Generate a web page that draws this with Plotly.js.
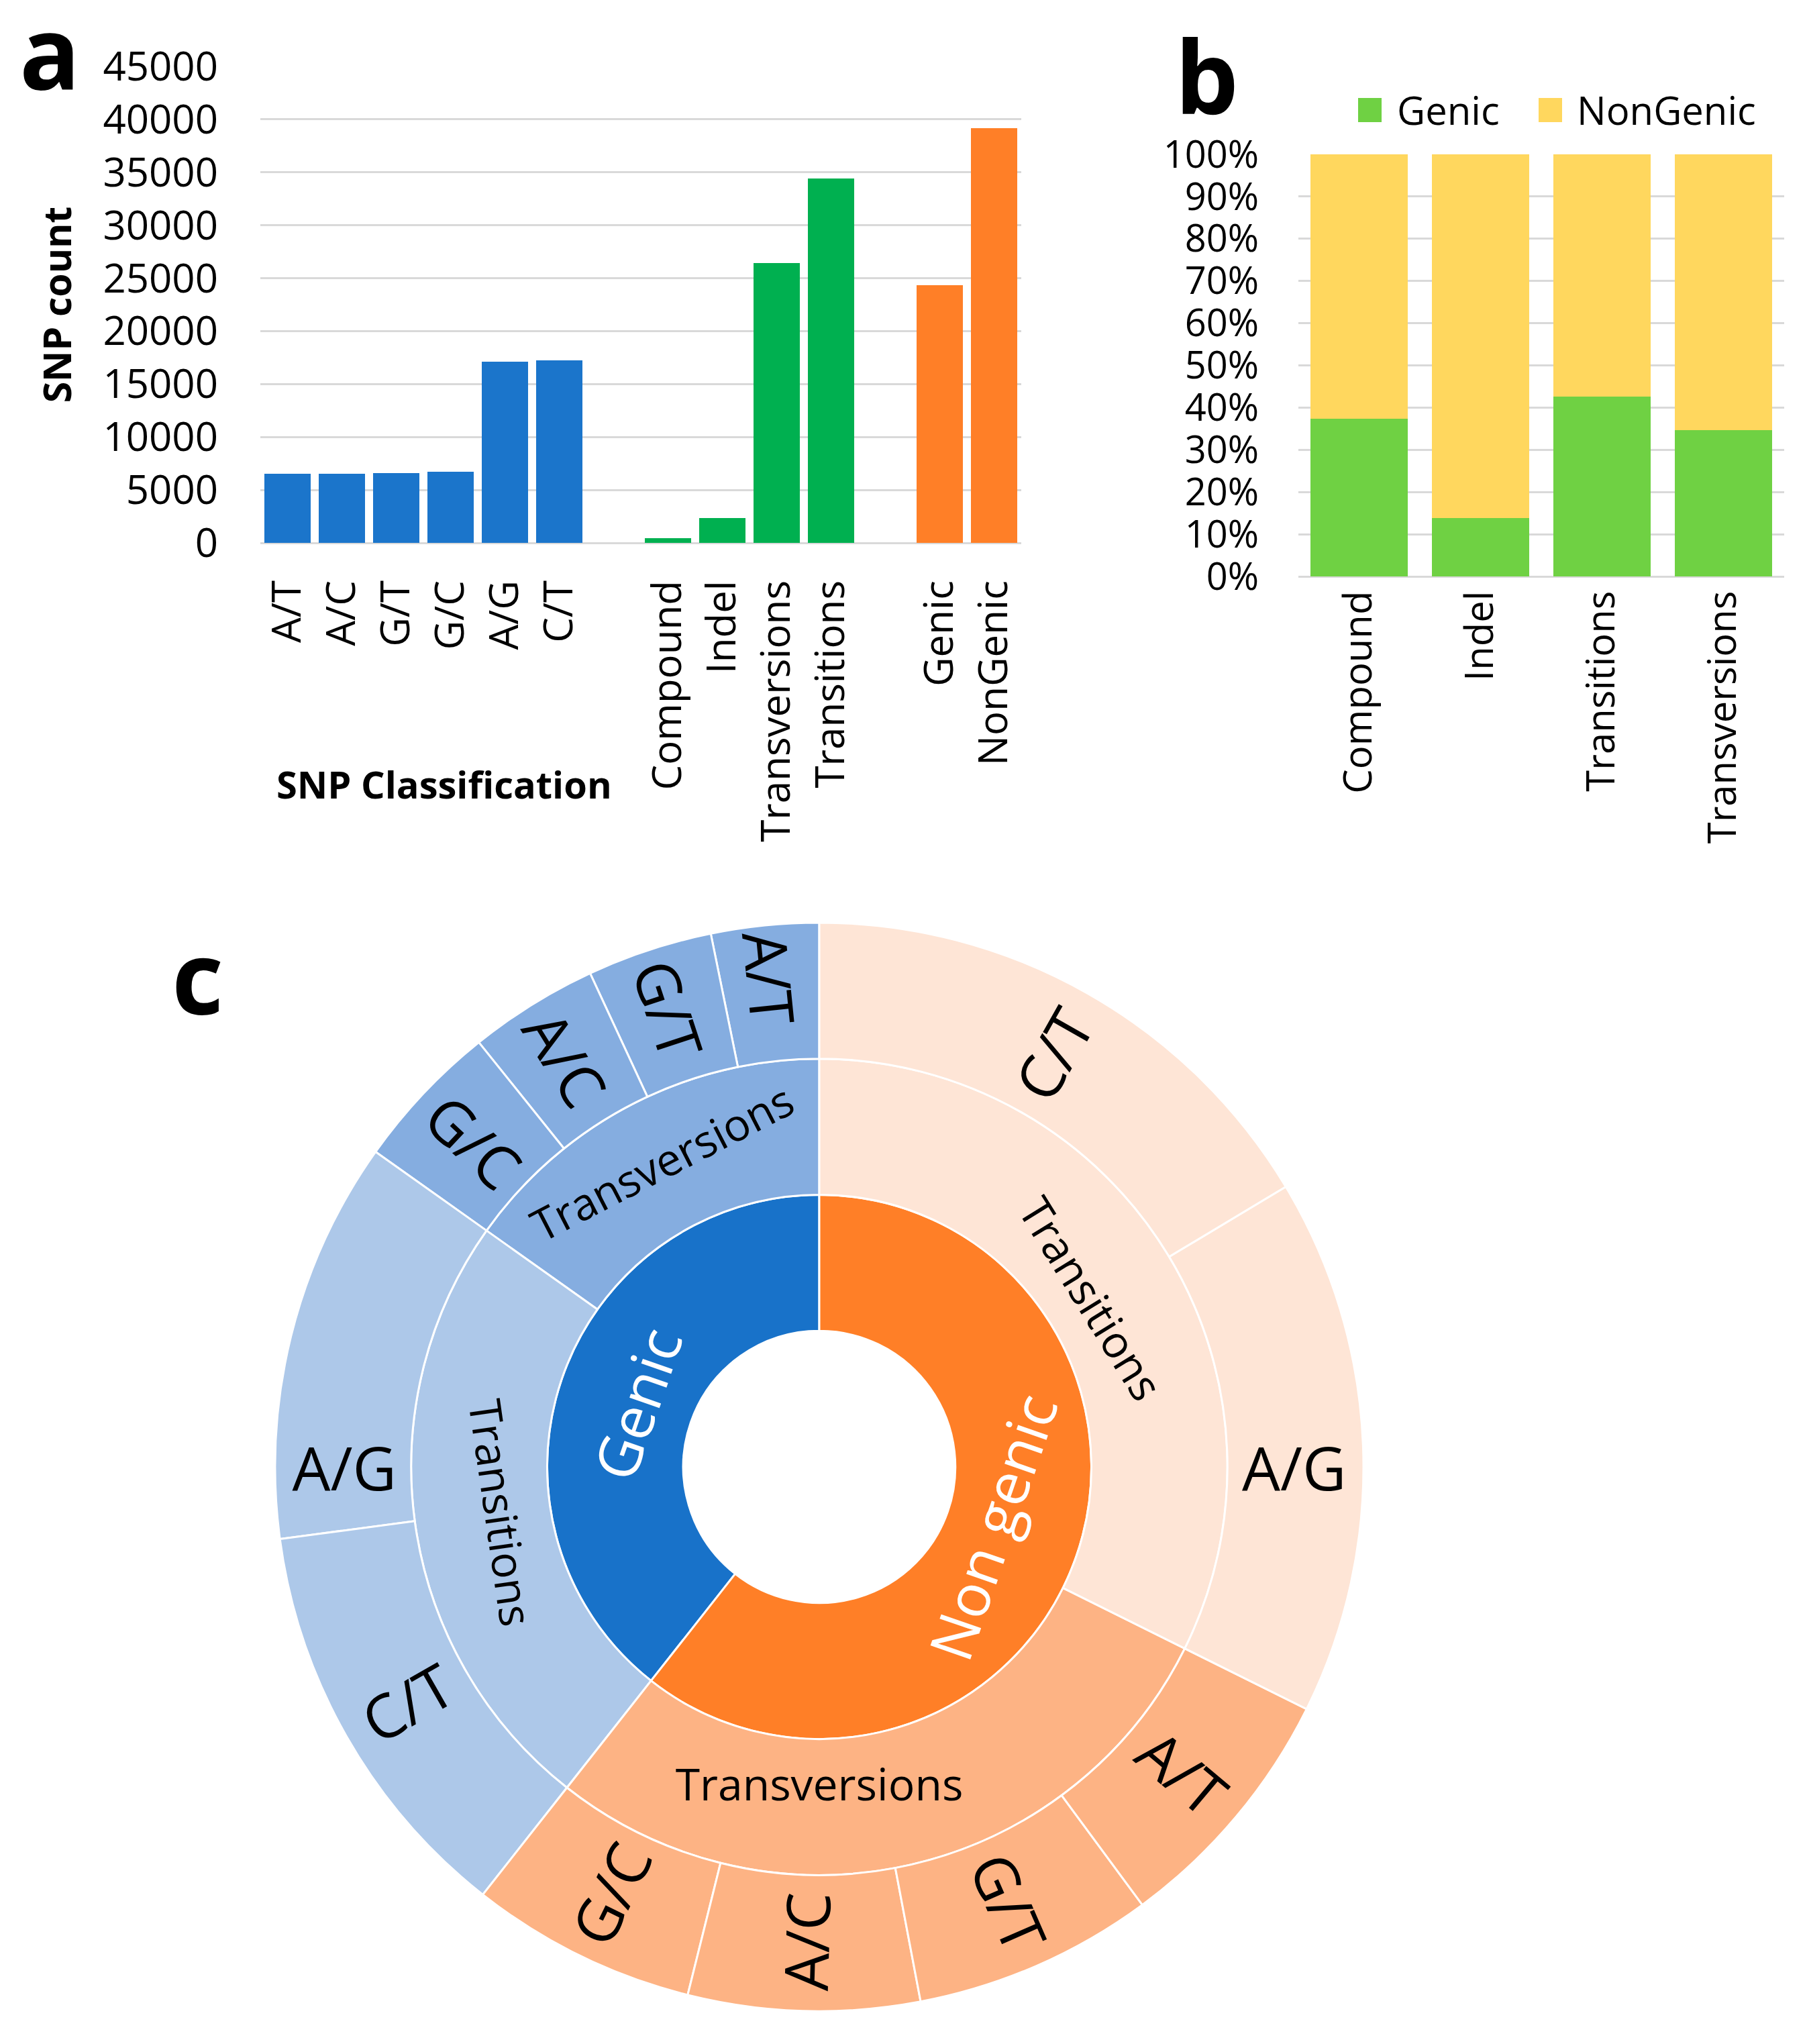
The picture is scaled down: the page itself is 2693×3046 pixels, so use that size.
<!DOCTYPE html>
<html>
<head>
<meta charset="utf-8">
<script src="https://cdn.plot.ly/plotly-3.0.1.min.js"></script>
<style>html,body{margin:0;padding:0;background:#fff;}</style>
</head>
<body>
<div id="chart" style="width:2693px;height:3046px;"></div>
<script>
// ---------- Panel a data ----------
const aCategories = ['A/T','A/C','G/T','G/C','A/G','C/T',' ','Compound','Indel','Transversions','Transitions','  ','Genic','NonGenic'];
const aBarLabels  = ['A/T','A/C','G/T','G/C','A/G','C/T','Compound','Indel','Transversions','Transitions','Genic','NonGenic'];
const aBarValues  = [6500, 6500, 6610, 6716, 17100, 17260, 420, 2360, 26440, 34420, 24340, 39190];
const aBarGroups  = ['allele','allele','allele','allele','allele','allele','type','type','type','type','region','region'];

// ---------- Panel b data ----------
const bCategories = ['Compound','Indel','Transitions','Transversions'];
const bSeriesNames = ['Genic','NonGenic'];
const bGenicPct    = [37.3, 13.9, 42.6, 34.7];
const bNonGenicPct = [62.7, 86.1, 57.4, 65.3];

// ---------- Panel c data ----------
const sunIds     = ['root','G','N','G-Tv','G-Ts','N-Tv','N-Ts',
                    'G-Tv-AT','G-Tv-GT','G-Tv-AC','G-Tv-GC','G-Ts-AG','G-Ts-CT',
                    'N-Tv-GC','N-Tv-AC','N-Tv-GT','N-Tv-AT','N-Ts-AG','N-Ts-CT'];
const sunLabels  = ['','Genic','Non genic','Transversions','Transitions','Transversions','Transitions',
                    'A/T','G/T','A/C','G/C','A/G','C/T',
                    'G/C','A/C','G/T','A/T','A/G','C/T'];
const sunParents = ['','root','root','G','G','N','N',
                    'G-Tv','G-Tv','G-Tv','G-Tv','G-Ts','G-Ts',
                    'N-Tv','N-Tv','N-Tv','N-Tv','N-Ts','N-Ts'];
const sunValues  = [0,0,0,0,0,0,0,
                    1940,2260,2330,2680,7250,7450,
                    4080,4170,4330,4580,9680,9950];

// ---------- styles ----------
const FONT = 'Open Sans, Noto Sans, sans-serif';
const groupColor = {allele:'#1B75CB', type:'#00B050', region:'#FF7F27'};
const bColors = ['#6FD143','#FFD75E'];
const sunColorById = {
  'root':'#FFFFFF','G':'#1872C9','N':'#FF7F27',
  'G-Tv':'#85ADE0','G-Ts':'#ADC8E9','N-Tv':'#FDB384','N-Ts':'#FEE5D6'
};
function depthOf(id){ let d=0, p=sunParents[sunIds.indexOf(id)]; while(p){ d++; p=sunParents[sunIds.indexOf(p)]; } return d; }
const sunDepth = sunIds.map(depthOf);
const sunColors = sunIds.map((id,i)=> sunColorById[id] || sunColorById[sunParents[i]]);
const tangTemplate = sunDepth.map(d => (d===1||d===2) ? '%{label}' : '');
const radTemplate  = sunDepth.map(d => d===3 ? '%{label}' : '');
const sunTextColor = sunDepth.map(d => d===1 ? '#FFFFFF' : '#000000');
const sunTextSize  = sunDepth.map(d => d===1 ? 88 : (d===2 ? 66 : 90));

const W = 2693, H = 3046;
const px = v => v / W;
const py = v => 1 - v / H;

const sunDomain = {x:[px(1221-811), px(1221+811)], y:[py(2186+811), py(2186-811)]};

const traces = [
  {
    type:'bar', x: aBarLabels, y: aBarValues, xaxis:'x', yaxis:'y',
    width: 0.84,
    marker:{color: aBarGroups.map(g=>groupColor[g])},
    showlegend:false, hoverinfo:'x+y'
  },
  {
    type:'bar', name: bSeriesNames[0], x: bCategories, y: bGenicPct, xaxis:'x2', yaxis:'y2',
    width: 0.8, marker:{color: bColors[0]}, showlegend:false
  },
  {
    type:'bar', name: bSeriesNames[1], x: bCategories, y: bNonGenicPct, xaxis:'x2', yaxis:'y2',
    width: 0.8, marker:{color: bColors[1]}, showlegend:false
  },
  {
    type:'sunburst', ids: sunIds, labels: sunLabels, parents: sunParents, values: sunValues,
    branchvalues:'remainder', sort:false, rotation:90,
    domain: sunDomain,
    marker:{colors: sunColors, line:{color:'#FFFFFF', width:3}},
    leaf:{opacity:1},
    texttemplate: tangTemplate, insidetextorientation:'tangential',
    textfont:{family: FONT, size: sunTextSize, color: sunTextColor},
    hoverinfo:'label+value'
  },
  {
    type:'sunburst', ids: sunIds, labels: sunLabels, parents: sunParents, values: sunValues,
    branchvalues:'remainder', sort:false, rotation:90,
    domain: sunDomain,
    marker:{colors: sunIds.map(()=> 'rgba(0,0,0,0)'), line:{color:'rgba(0,0,0,0)', width:0}},
    leaf:{opacity:1},
    texttemplate: radTemplate, insidetextorientation:'radial',
    textfont:{family: FONT, size: sunTextSize, color: sunTextColor},
    hoverinfo:'skip'
  }
];

const layout = {
  width: W, height: H,
  margin:{l:0,r:0,t:0,b:0},
  paper_bgcolor:'#FFFFFF', plot_bgcolor:'rgba(0,0,0,0)',
  barmode:'stack',
  font:{family: FONT, color:'#000000'},
  showlegend:false,
  xaxis:{
    domain:[px(388), px(388+1134)], anchor:'y', type:'category',
    categoryorder:'array', categoryarray: aCategories, range:[-0.5,13.5],
    tickangle:-90, tickfont:{family:FONT, size:60, color:'#000'},
    showgrid:false, showline:false, zeroline:false, ticks:'', ticklabelstandoff:43, fixedrange:true
  },
  yaxis:{
    domain:[py(809), py(99)], anchor:'x', range:[0,45000], dtick:5000, tickformat:'d',
    gridcolor:'#D9D9D9', gridwidth:3, zeroline:true, zerolinecolor:'#D9D9D9', zerolinewidth:3,
    showline:false, ticks:'', ticklabelstandoff:62,
    tickfont:{family:FONT, size:60, color:'#000'},
    title:{text:'SNP count', standoff:28, font:{family:FONT, size:57, weight:700, color:'#000'}},
    fixedrange:true
  },
  xaxis2:{
    domain:[px(1935), px(1935+724)], anchor:'y2', type:'category',
    categoryorder:'array', categoryarray: bCategories, range:[-0.5,3.5],
    tickangle:-90, tickfont:{family:FONT, size:58, color:'#000'},
    showgrid:false, showline:false, zeroline:false, ticks:'', ticklabelstandoff:9, fixedrange:true
  },
  yaxis2:{
    domain:[py(859), py(230)], anchor:'x2', range:[0,100], dtick:10, ticksuffix:'%',
    gridcolor:'#D9D9D9', gridwidth:3, zeroline:true, zerolinecolor:'#D9D9D9', zerolinewidth:3,
    showline:false, ticks:'', ticklabelstandoff:58,
    tickfont:{family:FONT, size:56, color:'#000'}, fixedrange:true
  },
  shapes:[
    {type:'rect', xref:'paper', yref:'paper', x0:px(2024), x1:px(2059), y0:py(182), y1:py(146), fillcolor:bColors[0], line:{width:0}},
    {type:'rect', xref:'paper', yref:'paper', x0:px(2293), x1:px(2328), y0:py(182), y1:py(146), fillcolor:bColors[1], line:{width:0}}
  ],
  annotations:[
    {text:'a', xref:'paper', yref:'paper', x:px(74), y:py(76), xanchor:'center', yanchor:'middle', showarrow:false,
     font:{family:FONT, size:150, weight:700, color:'#000'}},
    {text:'b', xref:'paper', yref:'paper', x:px(1798), y:py(112), xanchor:'center', yanchor:'middle', showarrow:false,
     font:{family:FONT, size:150, weight:700, color:'#000'}},
    {text:'c', xref:'paper', yref:'paper', x:px(294), y:py(1454), xanchor:'center', yanchor:'middle', showarrow:false,
     font:{family:FONT, size:150, weight:700, color:'#000'}},
    {text:'SNP Classification', xref:'paper', yref:'paper', x:px(662), y:py(1168), xanchor:'center', yanchor:'middle', showarrow:false,
     font:{family:FONT, size:56, weight:700, color:'#000'}},
    {text: bSeriesNames[0], xref:'paper', yref:'paper', x:px(2080), y:py(164), xanchor:'left', yanchor:'middle', showarrow:false,
     font:{family:FONT, size:58, color:'#000'}},
    {text: bSeriesNames[1], xref:'paper', yref:'paper', x:px(2348), y:py(164), xanchor:'left', yanchor:'middle', showarrow:false,
     font:{family:FONT, size:58, color:'#000'}}
  ]
};

Plotly.newPlot('chart', traces, layout, {staticPlot:true, displayModeBar:false});
</script>
</body>
</html>
